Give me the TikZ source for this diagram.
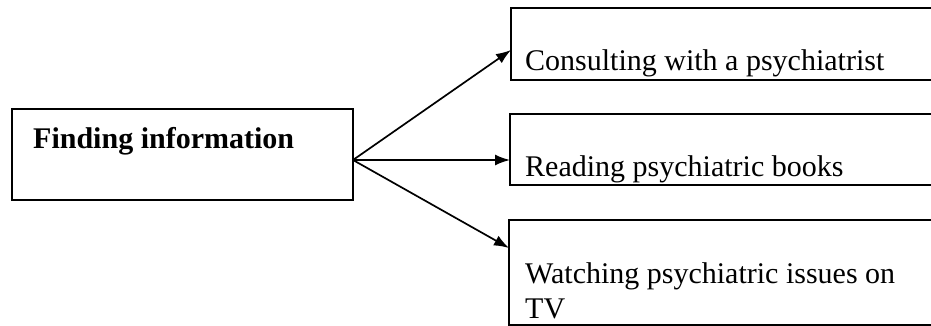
\documentclass[tikz,border=0pt]{standalone}
\usepackage{fontspec}
\setmainfont{Liberation Serif}
\usetikzlibrary{arrows.meta}
\begin{document}
\begin{tikzpicture}[x=1pt,y=-1pt,
  boxline/.style={draw, line width=1.6pt, inner sep=0pt, outer sep=0pt},
  link/.style={line width=1.7pt, -{Latex[length=15pt,width=11pt]}},
  lbl/.style={anchor=base west, inner sep=0pt, font=\fontsize{30}{35}\selectfont},
  lblb/.style={anchor=base west, inner sep=0pt, font=\fontsize{30}{35}\selectfont\bfseries}]
\useasboundingbox (0,0) rectangle (931,326);
\clip (0,0) rectangle (931,326);
% source box
\node[boxline, minimum width=341pt, minimum height=91pt] (src) at (182.5,154.5) {};
\node[lblb] (srct) at (33,149) {Finding information};
% target boxes (running off the right edge)
\node[boxline, minimum width=440pt, minimum height=72pt] (t1) at (731,44) {};
\node[lbl] (t1t) at (525,71) {Consulting with a psychiatrist};
\node[boxline, minimum width=440pt, minimum height=71pt] (t2) at (730,149.5) {};
\node[lbl] (t2t) at (525,176) {Reading psychiatric books};
\node[boxline, minimum width=440pt, minimum height=105pt] (t3) at (729,272.5) {};
\node[lbl] (t3t) at (525,283) {Watching psychiatric issues on};
\node[lbl] (t3u) at (525,318) {TV};
% connectors
\coordinate (fork) at (src.east |- 0,160);
\draw[link] (fork) -- (t1.west |- 0,50);
\draw[link] (fork) -- (t2.west |- 0,160);
\draw[link] (fork) -- (t3.west |- 0,248);
\end{tikzpicture}
\end{document}
